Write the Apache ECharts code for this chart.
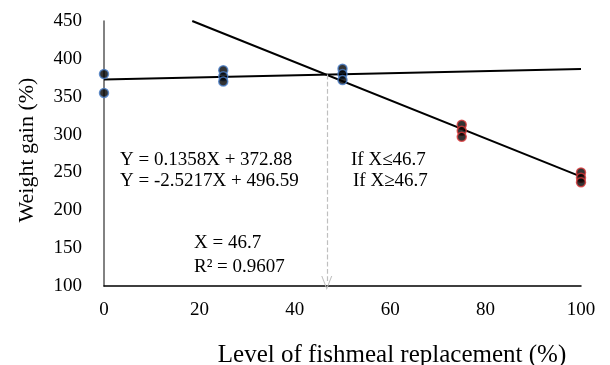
<!DOCTYPE html>
<html>
<head>
<meta charset="utf-8">
<script src="https://cdn.jsdelivr.net/npm/echarts@6/dist/echarts.min.js"></script>
<style>html,body{margin:0;padding:0;background:#fff}#c{width:610px;height:365px}</style>
</head>
<body>
<div id="c"></div>
<script>
// Data
var blueX = [0, 0, 25, 25, 25, 50, 50, 50];
var blueY = [380, 355, 385, 377, 370, 387, 380, 372];
var redX = [75, 75, 75, 100, 100, 100];
var redY = [313, 305, 297, 250, 243, 237];
var line1 = { slope: 0.1358, intercept: 372.88, from: 0, to: 100 };
var line2 = { slope: -2.5217, intercept: 496.59, from: 18.5, to: 100 };
var breakX = 46.7;
var xTicks = [0, 20, 40, 60, 80, 100];
var yTicks = [100, 150, 200, 250, 300, 350, 400, 450];

function pairs(xs, ys) { return xs.map(function (x, i) { return [x, ys[i]]; }); }
function lineData(l) { return [[l.from, l.slope * l.from + l.intercept], [l.to, l.slope * l.to + l.intercept]]; }
var breakY = line1.slope * breakX + line1.intercept;

var font = '"Liberation Serif", "Times New Roman", serif';
function txt(x, y, s, size, align) {
  return { type: 'text', x: x, y: y, style: { text: s, font: size + 'px ' + font, fill: '#000', verticalAlign: 'middle', align: align || 'left' } };
}
var chart = echarts.init(document.getElementById('c'));
chart.setOption({
  animation: false,
  grid: { left: 104, right: 29, top: 21, bottom: 79 },
  xAxis: {
    type: 'value', min: xTicks[0], max: xTicks[xTicks.length - 1], interval: 20,
    axisLine: { show: true, lineStyle: { color: '#000', width: 1.5 } },
    axisTick: { show: false }, splitLine: { show: false },
    axisLabel: { fontFamily: font, fontSize: 19, color: '#000', margin: 15 }
  },
  yAxis: {
    type: 'value', min: yTicks[0], max: yTicks[yTicks.length - 1], interval: 50,
    axisLine: { show: true, lineStyle: { color: '#595959', width: 1.5 } },
    axisTick: { show: false }, splitLine: { show: false },
    axisLabel: { fontFamily: font, fontSize: 19, color: '#000', margin: 22 }
  },
  series: [
    { type: 'line', data: lineData(line1), symbol: 'none', lineStyle: { color: '#000', width: 2 }, z: 2 },
    { type: 'line', data: lineData(line2), symbol: 'none', lineStyle: { color: '#000', width: 2 }, z: 2,
      markLine: {
        silent: true, symbol: ['none', 'path://M0,10 L5,0 L10,10 L9,10 L5,1.8 L1,10 Z'], symbolSize: [11, 14],
        label: { show: false },
        lineStyle: { color: '#bfbfbf', type: 'dashed', width: 1.2 },
        data: [[{ coord: [breakX, breakY] }, { coord: [breakX, yTicks[0] + 4] }]]
      }
    },
    { type: 'scatter', data: pairs(blueX, blueY), symbol: 'circle', symbolSize: 9,
      itemStyle: { color: '#000', borderColor: '#4a7ec8', borderWidth: 1.5 }, z: 3 },
    { type: 'scatter', data: pairs(redX, redY), symbol: 'circle', symbolSize: 9,
      itemStyle: { color: '#000', borderColor: '#d9383a', borderWidth: 1.5 }, z: 3 }
  ],
  graphic: [
    txt(120, 160, 'Y = 0.1358X + 372.88', 19),
    txt(120, 181, 'Y = -2.5217X + 496.59', 19),
    txt(351, 160, 'If X≤46.7', 19),
    txt(353, 181, 'If X≥46.7', 19),
    txt(194, 243, 'X = 46.7', 19),
    txt(194, 267, 'R² = 0.9607', 19),
    txt(392, 355, 'Level of fishmeal replacement (%)', 25, 'center'),
    { type: 'text', x: 27, y: 150, rotation: Math.PI / 2, style: { text: 'Weight gain (%)', font: '22px ' + font, fill: '#000', align: 'center', verticalAlign: 'middle' } }
  ]
});
</script>
</body>
</html>
